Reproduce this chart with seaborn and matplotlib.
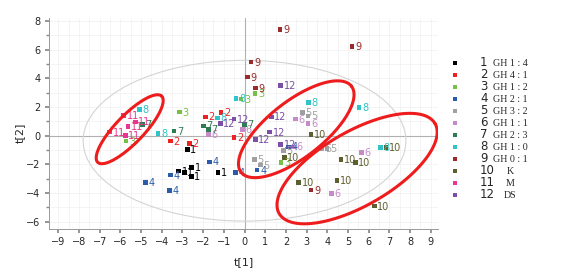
import numpy as np
import pandas as pd
import matplotlib
matplotlib.use("Agg")
import matplotlib.pyplot as plt
from matplotlib.patches import Ellipse
from matplotlib.ticker import MultipleLocator
import seaborn as sns

# ──────────────────────────────
# Data (score plot t[1] / t[2])
# ──────────────────────────────
group = [1] * 6 + [2] * 5 + [3] * 5 + [4] * 7 + [5] * 7 + [6] * 7 + [7] * 5 \
    + [8] * 7 + [9] * 6 + [10] * 8 + [11] * 5 + [12] * 7

t1 = [-3.18, -2.91, -2.55, -2.57, -1.29, -2.77,
      -3.59, -2.67, -1.90, -1.13, -0.50,
      -3.15, -5.73, -0.18, 0.50, 1.76,
      -4.80, -3.59, -3.64, -1.69, -0.45, 0.61, 2.13,
      0.48, 0.76, 2.80, 3.06, 1.88, 3.74, 3.98,
      2.45, 3.06, -1.74, -0.11, 5.64, 4.19, 2.37,
      -4.93, -3.40, -1.98, -1.74, -0.01,
      -5.09, -4.18, -1.30, -0.42, 3.09, 5.54, 6.56,
      1.72, 5.19, 0.32, 0.14, 0.52, 3.22,
      3.22, 1.92, 4.66, 5.35, 2.61, 4.46, 6.27, 6.83,
      -5.85, -5.28, -5.63, -6.52, -5.76,
      -0.50, -1.17, 0.52, 1.75, 1.29, 1.22, 1.75]

t2 = [-2.47, -2.57, -2.22, -2.85, -2.56, -0.96,
      -0.38, -0.54, 1.31, 1.63, -0.14,
      1.65, -0.38, 2.55, 2.93, -1.86,
      -3.25, -2.74, -3.83, -1.82, -2.58, -2.40, -0.78,
      -1.65, -2.05, 1.61, 1.38, -1.01, -0.89, -0.89,
      1.15, 0.85, 0.08, 0.45, -1.17, -4.01, -0.78,
      0.78, 0.33, 0.68, 0.43, 0.80,
      1.82, 0.15, 1.24, 2.58, 2.31, 1.96, -0.82,
      7.40, 6.22, 5.13, 4.08, 3.32, -3.78,
      0.08, -1.51, -1.65, -1.86, -3.25, -3.14, -4.90, -0.82,
      1.42, 0.96, 0.66, 0.26, 0.03,
      1.15, 0.85, -0.28, 3.51, 1.31, 0.26, -0.61]

group_names = ["GH 1 : 4", "GH 4 : 1", "GH 1 : 2", "GH 2 : 1", "GH 3 : 2", "GH 1 : 1",
               "GH 2 : 3", "GH 1 : 0", "GH 0 : 1", "K", "M", "DS"]
group_colors = ["#000000", "#ee2222", "#77c043", "#2a5caa", "#a0a0a0", "#c58bc8",
                "#2e7d52", "#2ec4c8", "#9b2a2a", "#5e5f2e", "#e8358f", "#7a4fa5"]

# hand-drawn highlight ellipses: centre (data), semi-axes (px), angle (deg)
hl_cx = [-5.55, 2.50, 5.44]
hl_cy = [0.45, 0.45, -2.29]
hl_a = [46, 70, 90]
hl_b = [14, 28, 37]
hl_ang = [46, 38, 30]

df = pd.DataFrame({"group": group, "t1": t1, "t2": t2})

# ──────────────────────────────
# Figure
# ──────────────────────────────
sns.set_theme(style="white")
plt.rcParams["font.family"] = ["DejaVu Sans"]

W, H = 573, 276
fig = plt.figure(figsize=(W / 100, H / 100), dpi=100)
ax = fig.add_axes([49 / W, 1 - 229 / H, 389 / W, 211 / H])

XLIM = (-9.45, 9.35)
YLIM = (-6.5, 8.2)
ax.set_xlim(*XLIM)
ax.set_ylim(*YLIM)

ax.xaxis.set_major_locator(MultipleLocator(1))
ax.yaxis.set_major_locator(MultipleLocator(2))
ax.yaxis.set_minor_locator(MultipleLocator(1))
ax.xaxis.set_minor_locator(MultipleLocator(0.5))
ax.grid(True, which="both", color="#f0f0f0", lw=0.5)
ax.set_axisbelow(True)

for side in ["top", "right"]:
    ax.spines[side].set_visible(False)
for side in ["left", "bottom"]:
    ax.spines[side].set_color("#999999")
    ax.spines[side].set_linewidth(0.7)
ax.tick_params(axis="both", which="major", labelsize=7, length=3, color="#888888",
               direction="out", bottom=True, left=True, pad=3)
ax.tick_params(axis="y", which="minor", length=2, color="#888888", left=True)
ax.tick_params(axis="x", which="minor", length=0)

ax.axhline(0, color="#b0b0b0", lw=0.8, zorder=1)
ax.axvline(0, color="#b0b0b0", lw=0.8, zorder=1)

# Hotelling ellipse
ax.add_patch(Ellipse((0, -0.35), 15.6, 11.2, fill=False, ec="#d4d4d4", lw=0.8, zorder=1))

palette = dict(zip(range(1, 13), group_colors))
sns.scatterplot(data=df, x="t1", y="t2", hue="group", palette=palette, marker="s",
                s=11, linewidth=0, legend=False, ax=ax, zorder=3)

for g, x, y in zip(group, t1, t2):
    ax.annotate(str(g), (x, y), xytext=(2.2, -0.4), textcoords="offset points",
                fontsize=7, color=group_colors[g - 1], va="center", ha="left", zorder=3)

# red highlight ellipses
sx = 389 / (XLIM[1] - XLIM[0])
sy = 211 / (YLIM[1] - YLIM[0])
tt = np.linspace(0, 2 * np.pi, 200)
for cx, cy, a, b, ang in zip(hl_cx, hl_cy, hl_a, hl_b, hl_ang):
    th = np.deg2rad(ang)
    ex = cx + (a * np.cos(tt) * np.cos(th) - b * np.sin(tt) * np.sin(th)) / sx
    ey = cy + (a * np.cos(tt) * np.sin(th) + b * np.sin(tt) * np.cos(th)) / sy
    ax.plot(ex, ey, color="#ee1c1c", lw=2.2, zorder=4)

ax.set_xlabel("")
ax.set_ylabel("")
fig.text(244 / W, 1 - 262 / H, "t[1]", fontsize=8, ha="center", va="center")
fig.text(20 / W, 1 - 133 / H, "t[2]", fontsize=8, ha="center", va="center", rotation=90)

# ──────────────────────────────
# Legend (manual, right side)
# ──────────────────────────────
lg = fig.add_axes([0, 0, 1, 1], zorder=5)
lg.set_xlim(0, W)
lg.set_ylim(H, 0)
lg.axis("off")
lg.patch.set_alpha(0)
for i, (name, col) in enumerate(zip(group_names, group_colors)):
    yy = 63 + 11.96 * i
    lg.scatter([455], [yy], marker="s", s=11, color=col, linewidths=0)
    lg.text(480, yy, str(i + 1), fontsize=8.5, ha="left", va="center")
    lg.text(510, yy + 1, name, fontsize=7.2, ha="center", va="center",
            family=["Liberation Serif", "DejaVu Serif"])

fig.savefig("out.png", dpi=100)
